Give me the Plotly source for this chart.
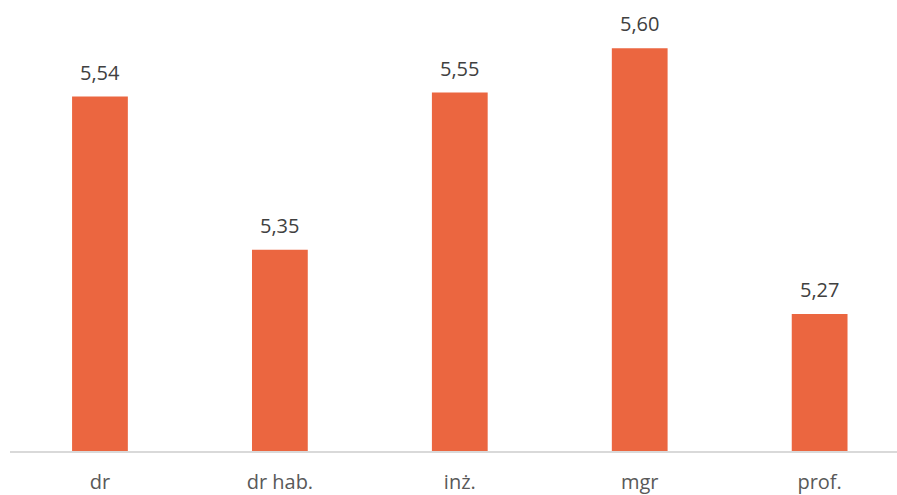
import plotly.graph_objects as go

categories = ["dr", "dr hab.", "inż.", "mgr", "prof."]
values = [5.54, 5.35, 5.545, 5.60, 5.27]
value_labels = ["5,54", "5,35", "5,55", "5,60", "5,27"]

fig = go.Figure()
fig.add_trace(go.Bar(
    x=categories, y=values, width=0.31,
    marker=dict(color="#EB6640", line=dict(width=0)),
    hoverinfo="skip",
))
for c, v, t in zip(categories, values, value_labels):
    fig.add_annotation(x=c, y=v, text=t, showarrow=False, yanchor="bottom", yshift=9,
                       font=dict(family="Open Sans, Liberation Sans, sans-serif", size=20, color="#404040"))

fig.update_layout(
    width=897, height=495,
    margin=dict(l=10, r=0, t=8, b=41),
    paper_bgcolor="white", plot_bgcolor="white",
    showlegend=False,
    xaxis=dict(range=[-0.5, 4.43], showline=True, linecolor="#D9D9D9", linewidth=1.5,
               showgrid=False, zeroline=False, ticks="", ticklabelstandoff=12,
               tickfont=dict(family="Open Sans, Liberation Sans, sans-serif", size=20, color="#595959")),
    yaxis=dict(range=[5.1, 5.65], visible=False, showgrid=False, zeroline=False),
)
fig.write_html("out.html", config={"displayModeBar": False, "staticPlot": True})

with open("out.html", "r", encoding="utf-8") as f:
    html = f.read()
html = html.replace("<head>", "<head><style>html,body{margin:0;padding:0;overflow:hidden;}</style>", 1)
with open("out.html", "w", encoding="utf-8") as f:
    f.write(html)
